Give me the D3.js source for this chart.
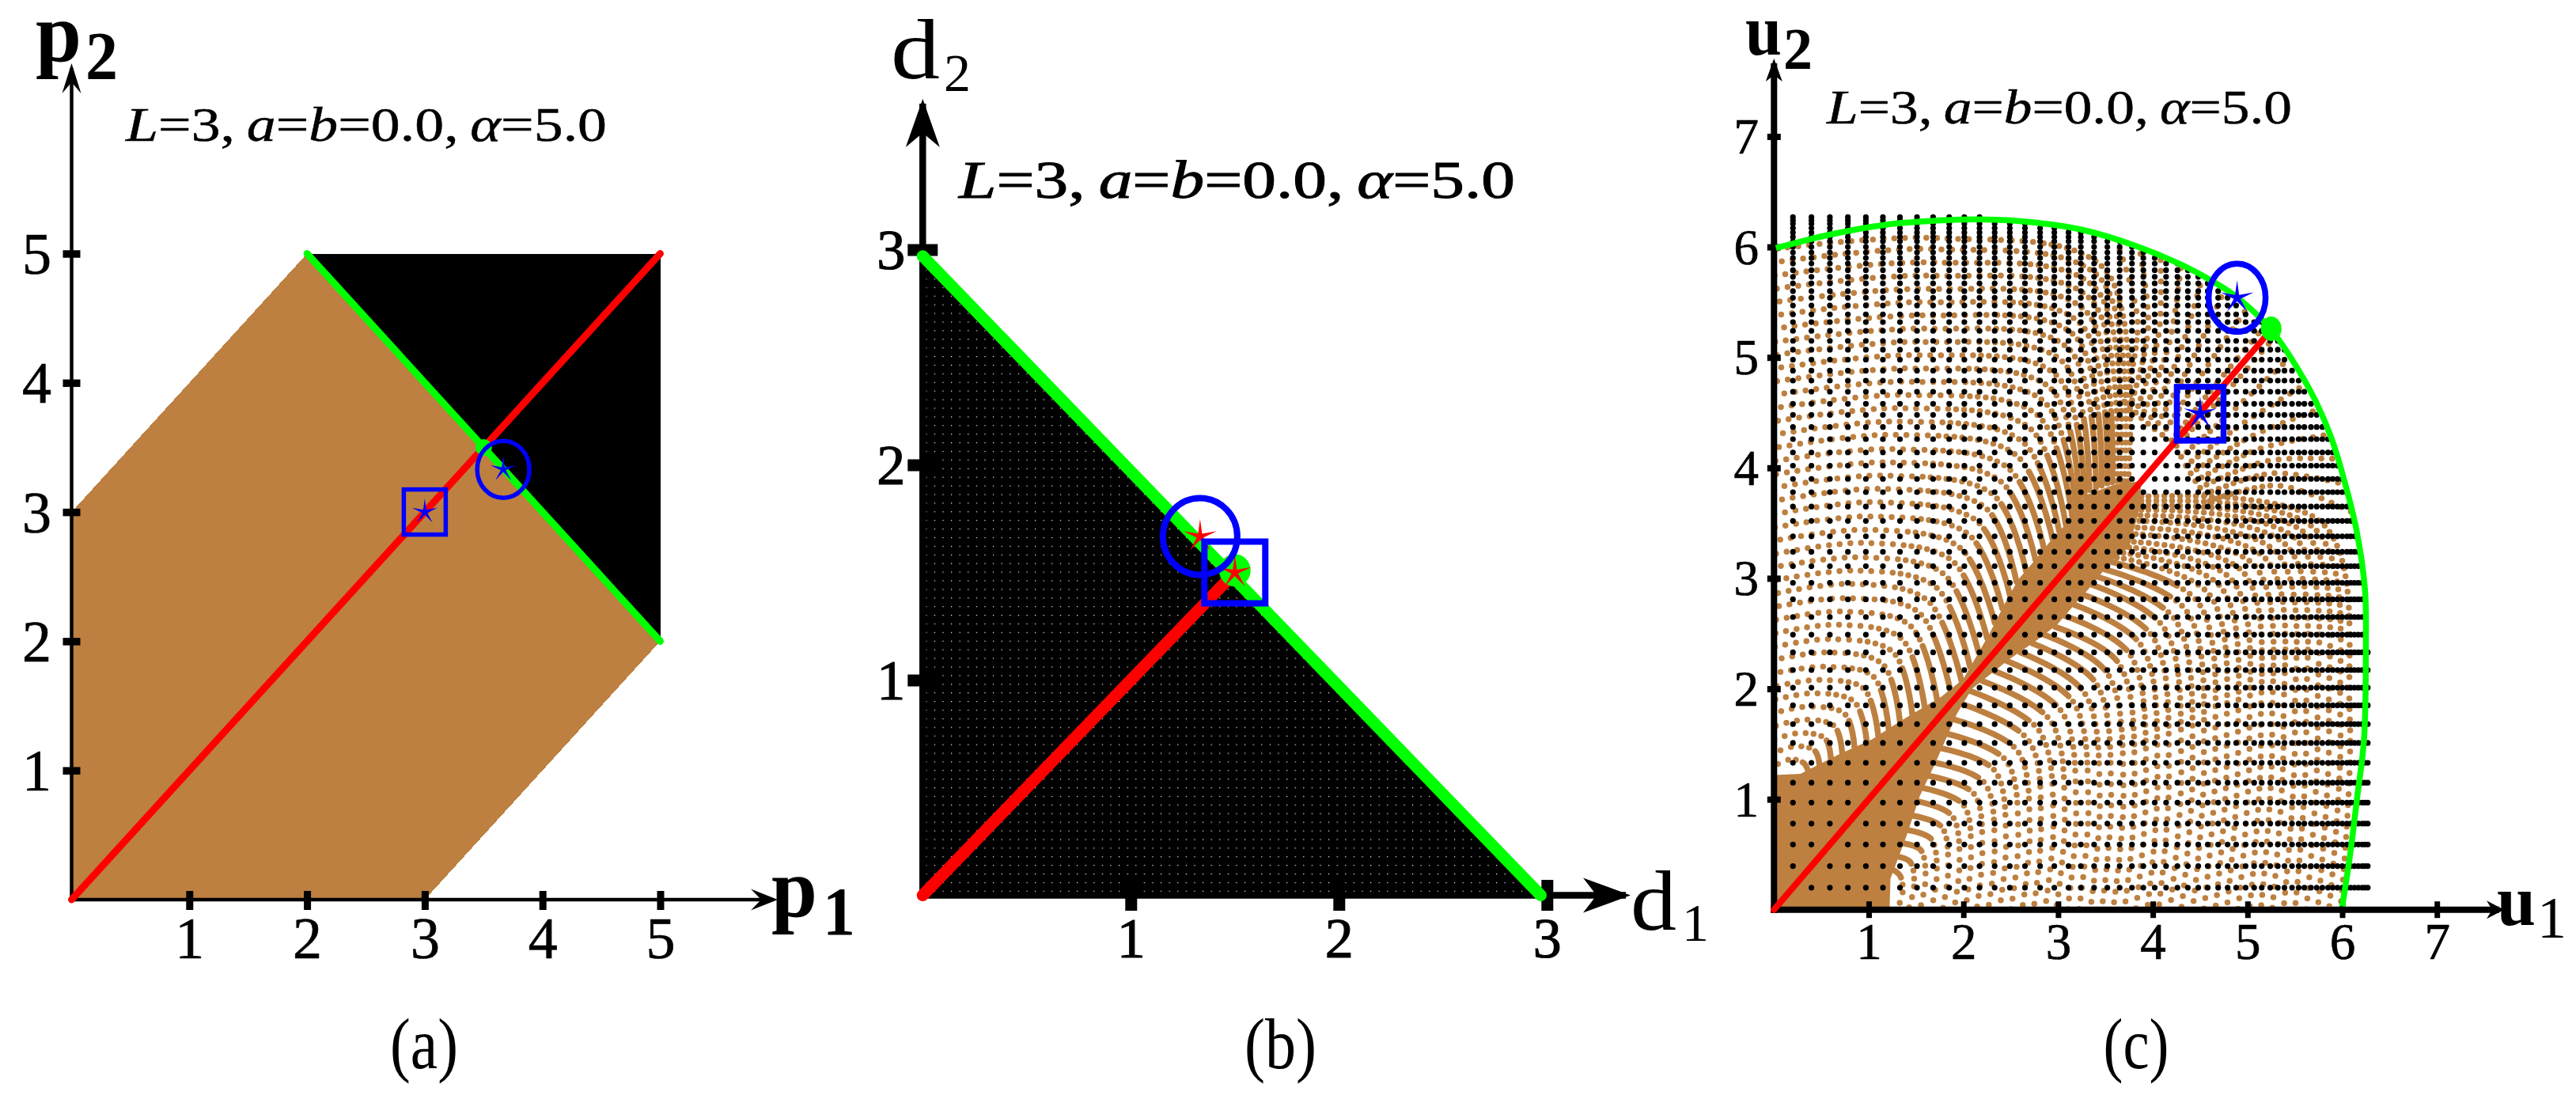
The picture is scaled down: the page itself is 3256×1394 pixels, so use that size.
<!DOCTYPE html>
<meta charset="utf-8">
<style>
body { margin: 0; background: #fff; }
text { font-family: "Liberation Serif", serif; fill: #000; }
.tick text { font-family: "Liberation Serif", serif; }
</style>
<body>
<script src="https://d3js.org/d3.v7.min.js"></script>
<script>

// tick values
var pTicks = [1, 2, 3, 4, 5],
    dTicks = [1, 2, 3],
    uTicks = [1, 2, 3, 4, 5, 6, 7];

var note = ["L", "=3,\u2009", "a", "=", "b", "=0.0,\u2009", "\u03b1", "=5.0"];

// panel a, price plane
var brownA = [[0,0],[3,0],[5,2],[2,5],[0,3]],
    blackA = [[2,5],[5,5],[5,2]],
    redA   = [[0,0],[5,5]],
    greenA = [[2,5],[5,2]],
    dotA   = [3.5,3.5],
    squareA = [3,3],
    circleA = [3.667,3.33];

// panel b, demand plane
var blackB = [[0,0],[2.97,0],[0,2.97]],
    redB   = [[0,0],[1.5,1.5]],
    greenB = [[0,2.97],[2.97,0]],
    dotB   = [1.5,1.51],
    squareB = [1.5,1.5],
    circleB = [1.333,1.667];

// panel c, utility plane
var redC   = [[0,0],[5.22,5.22]],
    dotC   = [5.25,5.26],
    squareC = [4.5,4.49],
    circleC = [4.89,5.54];

var greenC = [[0.02,5.99],[0.58,6.11],[1.17,6.2],[1.76,6.24],[2.17,6.25],[2.65,6.23],[3.23,6.16],
  [3.82,6.01],[4.3,5.84],[4.65,5.68],[4.88,5.55],[5.24,5.26],[5.47,4.98],[5.71,4.62],[5.89,4.26],
  [6.03,3.86],[6.15,3.44],[6.24,2.9],[6.25,2.39],[6.23,1.54],[6.16,1.03],[6.08,0.48],[6,0.03]];

// where the black grid sits (same levels on both axes)
var blackLevels = [0.2,0.395,0.59,0.78,0.97,1.15,1.33,1.51,1.68,1.85,2.01,2.17,2.33,2.49,2.65,2.81,2.96,
  3.11,3.24,3.38,3.52,3.65,3.78,3.9,4.02,4.14,4.26,4.37,4.48,4.58,4.69,4.79,4.88,4.98,5.07,5.15,5.24,
  5.32,5.39,5.47,5.54,5.6,5.67,5.73,5.79,5.85,5.9,5.95,6,6.05,6.09,6.13,6.17,6.21,6.24,6.27];

var blackEdge = [[0,0],[0,6.3],[2.17,6.28],[2.65,6.23],[3.23,6.16],[3.82,6.01],[4.3,5.84],[4.65,5.68],
  [5.24,5.26],[5.47,4.98],[5.71,4.62],[5.89,4.26],[6.03,3.86],[6.15,3.44],[6.24,2.9],[6.28,2.17],[6.3,0]];

// solid brown band round the diagonal, lower half
var bandHalf = [[0,0],[1.22,0],[1.23,0.28],[1.4,0.67],[1.54,1.03],[1.71,1.34],[1.93,1.77],[2.09,2],
  [2.49,2.27],[2.76,2.43],[2.99,2.58],[3.15,2.74],[3.38,2.96],[3.55,3.15],[3.75,3.28],[3.85,3.6],[3.88,3.88]];

// brown arcs from the band down to the u1 axis: x,y pairs
var arcs = [
  [1.26,0.36, 1.33,0.31, 1.36,0.17, 1.3,0],
  [1.31,0.48, 1.44,0.43, 1.48,0.23, 1.42,0],
  [1.37,0.6, 1.55,0.54, 1.6,0.28, 1.54,0],
  [1.42,0.72, 1.66,0.64, 1.72,0.33, 1.66,0],
  [1.47,0.85, 1.77,0.75, 1.84,0.38, 1.78,0],
  [1.52,0.98, 1.88,0.85, 1.96,0.44, 1.9,0],
  [1.58,1.1, 2,0.95, 2.08,0.49, 2.02,0],
  [1.64,1.21, 2.11,1.05, 2.2,0.54, 2.14,0],
  [1.7,1.33, 2.22,1.15, 2.33,0.58, 2.26,0],
  [1.77,1.46, 2.33,1.26, 2.45,0.63, 2.38,0],
  [1.84,1.59, 2.45,1.35, 2.58,0.67, 2.5,0],
  [1.91,1.72, 2.57,1.44, 2.7,0.72, 2.62,0],
  [1.99,1.86, 2.69,1.53, 2.82,0.77, 2.74,0],
  [2.07,1.98, 2.8,1.62, 2.95,0.82, 2.86,0],
  [2.2,2.07, 2.92,1.71, 3.07,0.87, 2.98,0],
  [2.33,2.16, 3.04,1.79, 3.19,0.92, 3.1,0],
  [2.46,2.25, 3.16,1.88, 3.32,0.97, 3.22,0],
  [2.6,2.33, 3.28,1.96, 3.44,1, 3.34,0],
  [2.73,2.41, 3.4,2.05, 3.56,1.04, 3.46,0],
  [2.85,2.49, 3.52,2.14, 3.69,1.08, 3.58,0],
  [2.97,2.56, 3.64,2.23, 3.81,1.12, 3.7,0],
  [3.07,2.66, 3.76,2.31, 3.93,1.16, 3.82,0],
  [3.17,2.76, 3.88,2.39, 4.05,1.2, 3.94,0],
  [3.27,2.85, 4,2.47, 4.17,1.24, 4.06,0],
  [3.36,2.94, 4.12,2.55, 4.3,1.28, 4.18,0],
  [3.43,3.01, 4.24,2.62, 4.42,1.32, 4.3,0],
  [3.49,3.08, 4.36,2.7, 4.54,1.36, 4.42,0],
  [3.55,3.15, 4.48,2.78, 4.66,1.4, 4.54,0],
  [3.62,3.19, 4.6,2.85, 4.78,1.44, 4.66,0],
  [3.69,3.23, 4.72,2.92, 4.9,1.48, 4.78,0],
  [3.75,3.28, 4.84,2.98, 5.02,1.52, 4.9,0],
  [3.8,3.33, 4.96,3.05, 5.14,1.56, 5.02,0],
  [3.82,3.4, 5.08,3.11, 5.26,1.6, 5.14,0],
  [3.84,3.46, 5.2,3.17, 5.38,1.62, 5.26,0],
  [3.86,3.52, 5.31,3.23, 5.5,1.64, 5.38,0],
  [3.87,3.57, 5.42,3.29, 5.62,1.66, 5.5,0],
  [3.88,3.62, 5.53,3.34, 5.74,1.68, 5.62,0],
  [3.88,3.66, 5.63,3.39, 5.86,1.7, 5.74,0],
  [3.88,3.7, 5.72,3.44, 5.98,1.72, 5.86,0],
  [3.88,3.74, 5.8,3.49, 6.08,1.74, 5.98,0]
];

// brown rays from the top of the band out to the green curve
var rays = [
  [4.25,4.2, 4.75,4.66, 5.3,5.2],
  [4.3,4.1, 4.85,4.52, 5.45,5],
  [4.35,4.02, 4.95,4.4, 5.6,4.75],
  [4.4,3.95, 5.03,4.28, 5.72,4.52],
  [4.45,3.88, 5.12,4.17, 5.85,4.3],
  [4.5,3.82, 5.2,4.06, 5.95,4.08],
  [4.55,3.76, 5.26,3.95, 6.03,3.85],
  [4.6,3.7, 5.32,3.84, 6.1,3.6]
];

var brown = "#bd8040", red = "#ff0000", green = "#00ff00", blue = "#0000ff";

function pairs(a) { return d3.range(0, a.length, 2).map(function(i) { return [a[i], a[i+1]]; }); }
function swap(p) { return [p[1], p[0]]; }
function both(list) {
  var l = list.map(pairs);
  return l.concat(l.map(function(d) { return d.map(swap); }));
}

var svg = d3.select("body").append("svg")
    .attr("width", 3256)
    .attr("height", 1394)
    .style("display", "block");

svg.append("rect").attr("width", 3256).attr("height", 1394).attr("fill", "#fff");

var defs = svg.append("defs");

// speck texture for the black triangle
var speck = defs.append("pattern")
    .attr("id", "specks")
    .attr("patternUnits", "userSpaceOnUse")
    .attr("x", 1170.2)
    .attr("y", 1125.8)
    .attr("width", 10.6)
    .attr("height", 10.9);
speck.append("rect").attr("width", 10.6).attr("height", 10.9).attr("fill", "#000");
speck.append("rect").attr("width", 1.2).attr("height", 1.2).attr("fill", "#fff");

// one panel: scales, axes with arrows, tick labels
function panel(o) {
  var x = d3.scaleLinear().domain([0, o.ticks[o.ticks.length-1]]).range([o.x0, o.x1]),
      y = d3.scaleLinear().domain([0, o.yTicks[o.yTicks.length-1]]).range([o.y0, o.y1]);
  return {x: x, y: y, g: svg.append("g"), o: o,
    line: d3.line().x(function(d) { return x(d[0]); }).y(function(d) { return y(d[1]); })};
}

function axes(p) {
  var o = p.o, g = p.g.append("g");

  g.append("line").attr("x1", o.x0 - o.axisW/2).attr("x2", o.xTip - 6)
      .attr("y1", o.y0).attr("y2", o.y0).attr("stroke", "#000").attr("stroke-width", o.axisW);
  g.append("line").attr("y1", o.y0 + o.axisW/2).attr("y2", o.yTip + 6)
      .attr("x1", o.x0).attr("x2", o.x0).attr("stroke", "#000").attr("stroke-width", o.axisW);

  g.append("path")
      .attr("d", "M0,0L" + (-o.arrX[0]) + "," + (-o.arrX[1]) + "L" + (-o.arrX[0]+o.arrX[2]) + ",0L" + (-o.arrX[0]) + "," + o.arrX[1] + "Z")
      .attr("transform", "translate(" + o.xTip + "," + o.y0 + ")");
  g.append("path")
      .attr("d", "M0,0L" + (-o.arrY[1]) + "," + o.arrY[0] + "L0," + (o.arrY[0]-o.arrY[2]) + "L" + o.arrY[1] + "," + o.arrY[0] + "Z")
      .attr("transform", "translate(" + o.x0 + "," + o.yTip + ")");

  var xAxis = d3.axisBottom(p.x).tickValues(o.ticks).tickFormat(d3.format("d")).tickSizeOuter(0);
  var yAxis = d3.axisLeft(p.y).tickValues(o.yTicks).tickFormat(d3.format("d")).tickSizeOuter(0);

  var gx = g.append("g").attr("transform", "translate(0," + o.y0 + ")").call(xAxis);
  var gy = g.append("g").attr("transform", "translate(" + o.x0 + ",0)").call(yAxis);
  gx.select(".domain").remove();
  gy.select(".domain").remove();

  gx.selectAll(".tick line").attr("y1", -o.tickX[0]).attr("y2", o.tickX[1])
      .attr("stroke-width", o.tickX[2]).attr("stroke", "#000");
  gy.selectAll(".tick line").attr("x1", -o.tickY[0]).attr("x2", o.tickY[1])
      .attr("stroke-width", o.tickY[2]).attr("stroke", "#000");
  gx.selectAll(".tick text")
      .attr("y", o.xLab).attr("dy", 0)
      .attr("text-anchor", "middle")
      .style("font-size", o.fx + "px")
      .attr("stroke", "#000").attr("stroke-width", o.sw);
  gy.selectAll(".tick text")
      .attr("x", o.yLab[0]).attr("dy", o.yLab[1])
      .attr("text-anchor", "middle")
      .style("font-size", o.fy + "px")
      .attr("stroke", "#000").attr("stroke-width", o.sw);
}

function poly(p, pts, col) {
  p.g.append("path")
      .attr("d", p.line(pts) + "Z")
      .attr("fill", col)
      .attr("shape-rendering", "crispEdges");
}

function stroke(p, pts, col, w) {
  p.g.append("path")
      .attr("d", p.line(pts))
      .attr("fill", "none")
      .attr("stroke", col)
      .attr("stroke-width", w)
      .attr("stroke-linecap", "round");
}

var starGen = d3.lineRadial().curve(d3.curveLinearClosed);
function star(p, c, R, col) {
  var pts = d3.range(10).map(function(i) {
    return [i * Math.PI / 5, i % 2 ? R * 0.2 : R];
  });
  p.g.append("path")
      .attr("d", starGen(pts))
      .attr("transform", "translate(" + p.x(c[0]) + "," + p.y(c[1]) + ")")
      .attr("fill", col);
}

function marks(p, m) {
  p.g.append("ellipse")
      .attr("cx", p.x(m.dot[0])).attr("cy", p.y(m.dot[1]))
      .attr("rx", m.dotR[0]).attr("ry", m.dotR[1])
      .attr("fill", green);
  star(p, m.square, m.star, m.starCol);
  star(p, m.circle, m.star, m.starCol);
  p.g.append("rect")
      .attr("x", p.x(m.square[0]) - m.squareS[0]/2).attr("y", p.y(m.square[1]) - m.squareS[1]/2)
      .attr("width", m.squareS[0]).attr("height", m.squareS[1])
      .attr("fill", "none").attr("stroke", blue).attr("stroke-width", m.w);
  p.g.append("ellipse")
      .attr("cx", p.x(m.circle[0])).attr("cy", p.y(m.circle[1]))
      .attr("rx", m.circleR[0]).attr("ry", m.circleR[1])
      .attr("fill", "none").attr("stroke", blue).attr("stroke-width", m.w);
}

function label(t, x, y, size, w, weight) {
  svg.append("text").attr("x", x).attr("y", y)
      .attr("textLength", w).attr("lengthAdjust", "spacingAndGlyphs")
      .style("font-size", size + "px").style("font-weight", weight || "normal")
      .text(t);
}

function annotate(x, y, size, len, sw) {
  var t = svg.append("text").attr("x", x).attr("y", y)
      .attr("textLength", len).attr("lengthAdjust", "spacingAndGlyphs")
      .attr("stroke", "#000").attr("stroke-width", sw)
      .style("font-size", size + "px");
  note.forEach(function(s, i) {
    t.append("tspan").style("font-style", i % 2 ? "normal" : "italic").text(s);
  });
}

function caption(t, cx, w) {
  svg.append("text").attr("x", cx - w/2).attr("y", 1350)
      .attr("textLength", w).attr("lengthAdjust", "spacingAndGlyphs")
      .style("font-size", "92px")
      .text(t);
}

/* ---------- panel a ---------- */
var a = panel({ticks: pTicks, yTicks: pTicks, x0: 90.5, x1: 834.5, y0: 1137, y1: 320.5,
  xTip: 983, yTip: 80, axisW: 4.5, arrX: [34, 13.5, 13], arrY: [38, 12, 14],
  tickX: [11, 13, 9], tickY: [11, 11, 9.5], xLab: 74, yLab: [-44, 25], fx: 74, fy: 74, sw: 0.7});
poly(a, brownA, brown);
poly(a, blackA, "#000");
axes(a);
stroke(a, redA, red, 9);
stroke(a, greenA, green, 9);
marks(a, {dot: dotA, dotR: [10.5, 10.5], square: squareA, squareS: [53, 57], circle: circleA,
  circleR: [33, 36], w: 5.5, star: 17, starCol: blue});

/* ---------- panel b ---------- */
var b = panel({ticks: dTicks, yTicks: dTicks, x0: 1166.3, x1: 1955.3, y0: 1131.5, y1: 315.5,
  xTip: 2061, yTip: 125, axisW: 8.5, arrX: [60, 22, 17], arrY: [61, 21.5, 18],
  tickX: [19.5, 19.5, 15], tickY: [19, 19, 15], xLab: 78.5, yLab: [-40, 24], fx: 72, fy: 72, sw: 1.2});
poly(b, blackB, "url(#specks)");
axes(b);
stroke(b, redB, red, 15);
stroke(b, greenB, green, 15);
marks(b, {dot: dotB, dotR: [20, 20.5], square: squareB, squareS: [77, 78], circle: circleB,
  circleR: [47, 48.5], w: 8, star: 22, starCol: red});

/* ---------- panel c ---------- */
var c = panel({ticks: uTicks, yTicks: uTicks, x0: 2242.3, x1: 3080.2, y0: 1149.7, y1: 172.5,
  xTip: 3165, yTip: 74, axisW: 8, arrX: [22, 11.5, 7], arrY: [29, 10.5, 8],
  tickX: [10.5, 10.5, 7], tickY: [8.5, 8.5, 8], xLab: 62.5, yLab: [-35, 21], fx: 65, fy: 63, sw: 0.7});

var clipLine = d3.line().x(function(d) { return c.x(d[0]); }).y(function(d) { return c.y(d[1]); })
    .curve(d3.curveCatmullRom);
defs.append("clipPath").attr("id", "inside").append("path")
    .attr("d", clipLine(greenC) + "L" + c.x(0) + "," + c.y(0) + "Z");

var brownG = c.g.append("g").attr("clip-path", "url(#inside)");

brownG.append("path")
    .attr("d", c.line(bandHalf.concat(bandHalf.slice().reverse().map(swap))) + "Z")
    .attr("fill", brown);

function arcLayer(cls, lines, solidPart, tightPart) {
  brownG.selectAll("." + cls)
      .data(lines)
    .enter().append("path")
      .attr("class", cls)
      .attr("d", clipLine)
      .attr("fill", "none")
      .attr("stroke", brown)
      .attr("stroke-width", 7.5)
      .attr("stroke-linecap", "round")
      .attr("stroke-dasharray", function(d) {
        // tight near the band, opening up further out; the ones leaving the
        // tip of the band stay dotted or they pile up into a spike
        var len = this.getTotalLength(),
            nearTip = d[0][0] > 3.6 && d[0][1] > 3.15,
            solid = nearTip ? 0 : Math.min(len * solidPart, 90),
            dash = [solid, 9], s = solid + 9;
        while (s < len * tightPart) { dash.push(0, 10); s += 10; }
        while (s < len + 20) { dash.push(0, 13.5); s += 13.5; }
        return dash.join(" ");
      });
}

arcLayer("arc", both(arcs), 0.25, 0.5);
arcLayer("ray", both(rays), 0, 0.4);

var blackDots = d3.cross(blackLevels, blackLevels).filter(function(d) {
  return d3.polygonContains(blackEdge, d);
});

c.g.selectAll(".blk")
    .data(blackDots)
  .enter().append("circle")
    .attr("class", "blk")
    .attr("cx", function(d) { return c.x(d[0]); })
    .attr("cy", function(d) { return c.y(d[1]); })
    .attr("r", 3.6)
    .attr("fill", "#000");

axes(c);

c.g.append("path").attr("d", clipLine(greenC))
    .attr("fill", "none").attr("stroke", green).attr("stroke-width", 7.5);
stroke(c, redC, red, 8);
marks(c, {dot: dotC, dotR: [13, 15.5], square: squareC, squareS: [59, 68], circle: circleC,
  circleR: [36, 43], w: 7.5, star: 22, starCol: blue});

/* ---------- text ---------- */
label("p", 45, 77, 106, 58, "bold");
label("2", 108, 100, 86, 41, "bold");
label("p", 975, 1158, 106, 58, "bold");
label("1", 1040, 1181, 86, 41, "bold");

label("d", 1126, 99, 108, 62);
label("2", 1193, 115, 68, 34);
label("d", 2061, 1175, 108, 58);
label("1", 2126, 1189, 68, 34);

label("u", 2206, 69, 90, 46, "bold");
label("2", 2254, 87, 75, 37, "bold");
label("u", 3156, 1169, 90, 49, "bold");
label("1", 3207, 1185, 74, 37);

annotate(159, 178, 62, 608, 0.5);
annotate(1212, 250, 68, 703, 1);
annotate(2309, 156, 62, 588, 0.5);

caption("(a)", 536, 86);
caption("(b)", 1618.5, 91);
caption("(c)", 2700, 83);

</script>
